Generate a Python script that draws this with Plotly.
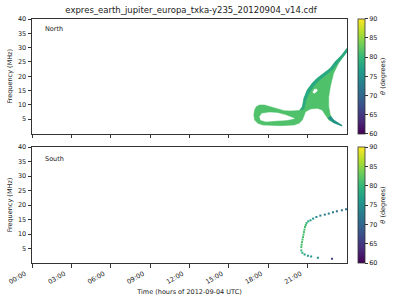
import plotly.graph_objects as go
from plotly.colors import sample_colorscale

# ---------------- data ----------------
title = "expres_earth_jupiter_europa_txka-y235_20120904_v14.cdf"
hour_ticks = [0, 3, 6, 9, 12, 15, 18, 21]
hour_labels = ["00:00", "03:00", "06:00", "09:00", "12:00", "15:00", "18:00", "21:00"]
freq_ticks = [5, 10, 15, 20, 25, 30, 35, 40]
theta_ticks = [60, 65, 70, 75, 80, 85, 90]
theta_min, theta_max = 60, 90

# North: emission region outline (time in hours, frequency in MHz)
north_body_t = [24.0, 23.61, 23.10, 22.73, 22.23, 21.73, 21.35, 20.97, 20.72, 20.60, 20.35,
                20.22, 19.71, 19.22, 18.84, 18.46, 18.09, 17.71, 17.33, 17.08, 16.96, 16.90,
                16.96, 17.20, 17.58, 18.96, 19.97, 20.35, 20.60,
                20.84, 21.22, 21.73, 22.10, 22.35, 22.61, 22.98, 23.61,
                23.61, 22.98, 22.73, 22.61, 22.61, 22.73, 22.98, 23.36, 23.74, 24.0]
north_body_f = [29.79, 27.45, 25.10, 22.80, 21.05, 19.30, 17.55, 15.21, 12.31, 9.37, 8.04,
                7.97, 7.87, 7.97, 8.46, 8.81, 9.37, 9.97, 9.97, 9.37, 8.22, 6.47,
                4.72, 3.57, 2.97, 2.73, 2.97, 3.57, 4.72,
                7.62, 8.57, 8.81, 8.22, 6.47, 4.72, 3.78, 2.62,
                2.87, 4.72, 6.47, 9.37, 12.87, 16.36, 21.05, 24.55, 26.85, 28.60]
north_body_theta = 81.5

north_rim_t = [24.0, 23.61, 23.10, 22.73, 22.23, 21.73, 21.35, 20.97, 20.72, 20.60, 20.44,
               20.71, 20.90, 21.20, 21.57, 21.95, 22.44, 22.89, 23.31, 23.76, 24.0]
north_rim_f = [29.79, 27.45, 25.10, 22.80, 21.05, 19.30, 17.55, 15.21, 12.31, 9.37, 8.20,
               8.57, 12.06, 14.86, 17.13, 18.88, 20.63, 22.38, 24.65, 27.10, 28.60]
north_rim_theta = 78

north_tail_t = [22.55, 22.98, 23.61, 23.61, 22.98, 22.73]
north_tail_f = [5.42, 3.78, 2.62, 2.87, 4.72, 6.12]
north_tail_theta = 75

# gaps (no emission) inside the region
loop_gap_t = [17.33, 17.51, 18.11, 18.71, 19.31, 19.99, 19.47, 18.71, 17.81, 17.41]
loop_gap_f = [5.77, 6.99, 7.34, 7.17, 6.47, 5.24, 4.72, 4.37, 4.20, 4.72]
body_gap_t = [21.39, 21.50, 21.69, 21.73, 21.50]
body_gap_f = [14.34, 15.38, 15.56, 14.86, 13.99]

# South: individual detections
south_t = [23.93, 23.61, 23.23, 22.93, 22.61, 22.31, 21.97, 21.67, 21.42, 21.22, 21.05,
           20.92, 20.86, 20.80, 20.76, 20.72, 20.68, 20.65, 20.61, 20.57, 20.54, 20.52, 20.52, 20.60,
           20.77, 21.02, 21.27, 21.78, 22.86]
south_f = [18.53, 18.18, 17.84, 17.49, 17.04, 16.69, 16.35, 15.86, 15.31, 14.72, 14.37,
           13.78, 13.10, 12.40, 11.50, 10.67, 9.80, 8.94, 8.10, 7.20, 6.30, 5.47, 4.33, 3.53,
           2.94, 2.49, 2.25, 1.80, 1.45]
south_theta = [71, 71, 71, 72, 72, 72, 73, 74, 75, 77, 78,
               80, 81, 81, 81, 81, 81, 81, 81, 81, 81, 81, 80, 79,
               77, 76, 76, 74, 66]

# ---------------- figure ----------------
FONT = "DejaVu Sans"
TXT = "#222222"


def vcolor(theta):
    return sample_colorscale("Viridis", [(theta - theta_min) / (theta_max - theta_min)])[0]


fig = go.Figure()


def poly(t, f, color, xa="x", ya="y"):
    fig.add_trace(go.Scatter(x=t, y=f, mode="lines", fill="toself", fillcolor=color,
                             line=dict(color=color, width=0.5), hoverinfo="skip",
                             showlegend=False, xaxis=xa, yaxis=ya))


poly(north_body_t, north_body_f, vcolor(north_body_theta))
poly(north_rim_t, north_rim_f, vcolor(north_rim_theta))
poly(north_tail_t, north_tail_f, vcolor(north_tail_theta))
poly(loop_gap_t, loop_gap_f, "white")
poly(body_gap_t, body_gap_f, "white")

# invisible trace to carry the north colorbar
fig.add_trace(go.Scatter(x=[None], y=[None], mode="markers",
                         marker=dict(color=[75], coloraxis="coloraxis"),
                         showlegend=False, xaxis="x", yaxis="y"))

fig.add_trace(go.Scatter(x=south_t, y=south_f, mode="markers",
                         marker=dict(symbol="square", size=2.0, color=south_theta,
                                     coloraxis="coloraxis2", line=dict(width=0)),
                         showlegend=False, xaxis="x2", yaxis="y2"))

top_dom = [0.5307, 1.0]
bot_dom = [0.0, 0.4754]

axis_common = dict(showgrid=False, zeroline=False, showline=True, mirror=True,
                   linecolor="#333333", linewidth=1, ticks="outside", ticklen=3.5,
                   tickcolor="#333333", tickwidth=0.8,
                   tickfont=dict(family=FONT, size=6.5, color=TXT), automargin=False)

cbar_common = dict(thickness=7, thicknessmode="pixels", lenmode="fraction",
                   x=1.0346, xanchor="left", xpad=0, ypad=0, yanchor="middle",
                   outlinewidth=0.8, outlinecolor="#333333",
                   ticks="outside", ticklen=3, tickcolor="#333333",
                   tickvals=theta_ticks, tickfont=dict(family=FONT, size=6.5, color=TXT),
                   title=dict(text="<i>θ</i> (degrees)", side="right",
                              font=dict(family=FONT, size=6.5, color=TXT)))

fig.update_layout(
    width=400, height=300,
    margin=dict(l=32, r=50, t=19, b=37, pad=0),
    paper_bgcolor="white", plot_bgcolor="white",
    title=dict(text=title, x=(32 + 350) / 2 / 400, xanchor="center", y=1 - 10 / 300,
               yanchor="middle", font=dict(family=FONT, size=8.5, color=TXT)),
    xaxis=dict(axis_common, domain=[0, 1], range=[0, 24], tickvals=hour_ticks,
               ticktext=hour_labels, showticklabels=False, anchor="y"),
    yaxis=dict(axis_common, domain=top_dom, range=[0, 40], tickvals=freq_ticks,
               anchor="x",
               title=dict(text="Frequency (MHz)", standoff=4,
                          font=dict(family=FONT, size=6.5, color=TXT))),
    xaxis2=dict(axis_common, domain=[0, 1], range=[0, 24], tickvals=hour_ticks,
                ticktext=hour_labels, tickangle=-30, ticklabelshift=-7, anchor="y2",
                matches="x",
                title=dict(text="Time (hours of 2012-09-04 UTC)", standoff=4,
                           font=dict(family=FONT, size=6.5, color=TXT))),
    yaxis2=dict(axis_common, domain=bot_dom, range=[0, 40], tickvals=freq_ticks,
                anchor="x2",
                title=dict(text="Frequency (MHz)", standoff=4,
                           font=dict(family=FONT, size=6.5, color=TXT))),
    coloraxis=dict(colorscale="Viridis", cmin=theta_min, cmax=theta_max,
                   colorbar=dict(cbar_common, len=top_dom[1] - top_dom[0],
                                 y=(top_dom[0] + top_dom[1]) / 2)),
    coloraxis2=dict(colorscale="Viridis", cmin=theta_min, cmax=theta_max,
                    colorbar=dict(cbar_common, len=bot_dom[1] - bot_dom[0],
                                  y=(bot_dom[0] + bot_dom[1]) / 2)),
    annotations=[
        dict(text="North", xref="x domain", yref="y domain", x=0.035, y=0.91,
             xanchor="left", yanchor="middle", showarrow=False,
             font=dict(family=FONT, size=6.5, color=TXT)),
        dict(text="South", xref="x2 domain", yref="y2 domain", x=0.035, y=0.893,
             xanchor="left", yanchor="middle", showarrow=False,
             font=dict(family=FONT, size=6.5, color=TXT)),
    ],
)

fig.write_html("out.html")
